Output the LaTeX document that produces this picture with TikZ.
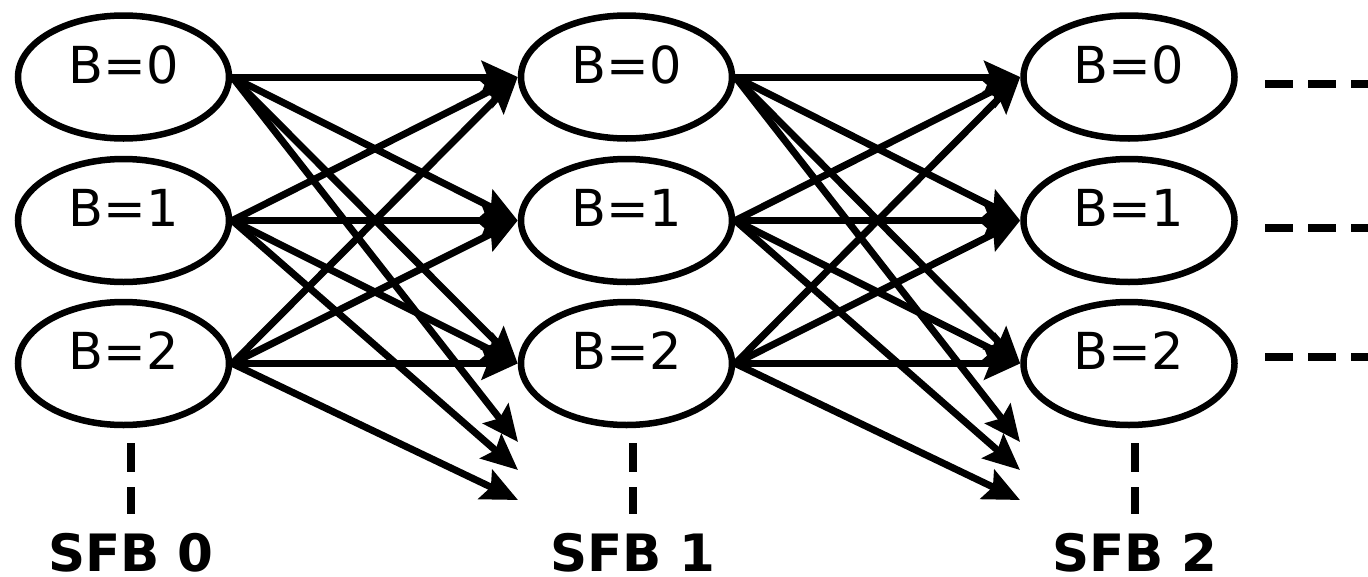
\documentclass[tikz,border=0pt]{standalone}
\usepackage{fontspec}
\setmainfont{DejaVu Sans}
\usetikzlibrary{shapes.geometric,arrows.meta}
\begin{document}
\begin{tikzpicture}[x=1pt,y=-1pt,
  state/.style={ellipse, draw, line width=6.5pt, minimum width=211pt, minimum height=123pt, inner sep=0pt},
  lab/.style={font=\fontsize{51}{52}\selectfont, inner sep=0pt, anchor=base},
  trans/.style={line width=7pt, -{Stealth[length=36pt,width=32pt,inset=6pt]}},
  sfb/.style={font=\fontsize{51.5}{52}\selectfont\bfseries, inner sep=0pt, text depth=0pt, anchor=base},
  sepline/.style={line width=8pt, dash pattern=on 29pt off 15pt},
]
\clip (0,0) rectangle (1368,576);
% states
\foreach \c/\x in {0/123.5,1/626.5,2/1129}{
  \foreach \r/\y in {0/77,1/220.5,2/363.5}{
    \node[state] (c\c r\r) at (\x,\y) {};
    \node[lab] (t\c r\r) at ([yshift=-6pt]c\c r\r.center) {B=\r};
  }
}
% free ends of the extra transitions
\foreach \c/\x in {0/518,1/1020}{
  \coordinate (x\c r0) at (\x,442);
  \coordinate (x\c r1) at (\x,470);
  \coordinate (x\c r2) at (\x,500);
}
% transitions
\foreach \c/\n in {0/1,1/2}{
  \foreach \r in {0,1,2}{
    \foreach \t in {0,1,2}{
      \draw[trans] (c\c r\r.east) -- (c\n r\t.west);
    }
    \draw[trans] (c\c r\r.east) -- (x\c r\r);
  }
}
% SFB labels and separators
\foreach \c/\x in {0/131,1/633,2/1135}{
  \coordinate (v\c a) at (\x,443);
  \coordinate (v\c b) at (\x,514);
  \draw[sepline] (v\c a) -- (v\c b);
  \node[sfb] (s\c) at (\x,571) {SFB \c};
}
% continuation dashes
\foreach \r/\y in {0/84,1/228,2/357}{
  \coordinate (h\r a) at (1265,\y);
  \coordinate (h\r b) at (1400,\y);
  \draw[line width=8pt, dash pattern=on 28pt off 15pt] (h\r a) -- (h\r b);
}
\end{tikzpicture}
\end{document}
